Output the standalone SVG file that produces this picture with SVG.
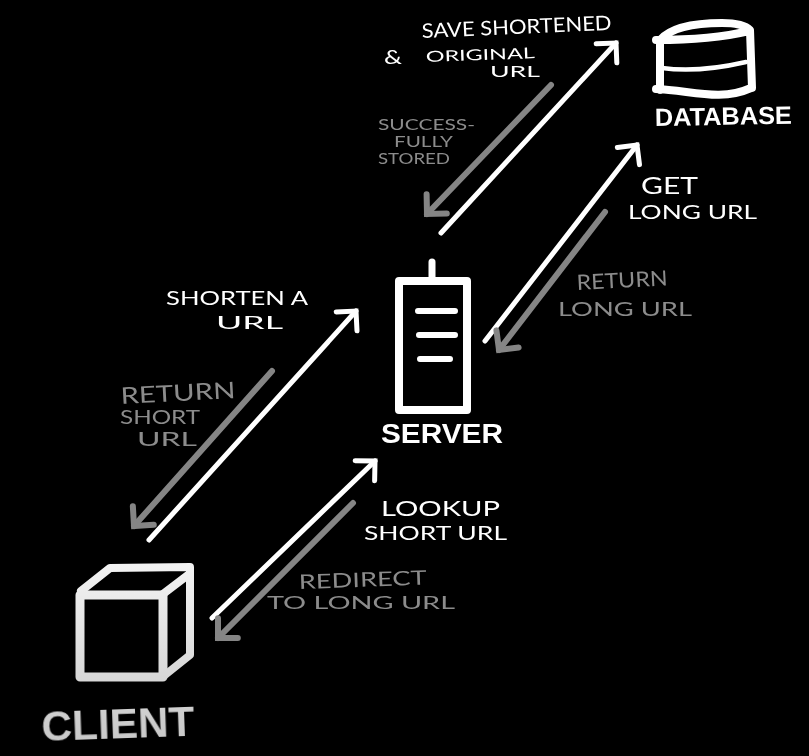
<svg xmlns="http://www.w3.org/2000/svg" width="809" height="756" viewBox="0 0 809 756">
<style>
.bg{fill:#000}
.w{fill:none;stroke:#fff;stroke-linecap:round;stroke-linejoin:round}
.cw{fill:none;stroke:#fff;stroke-width:5;stroke-linecap:round;marker-end:url(#hw)}
.cg{fill:none;stroke:#858585;stroke-width:6;stroke-linecap:round;marker-end:url(#hg)}
text{font-family:"Lato","Liberation Sans",sans-serif;font-weight:400}
.tw{fill:#fff}
.tg{fill:#8c8c8c}
.b{font-weight:700;font-family:"Liberation Sans",sans-serif}
</style>
<defs>
<filter id="soft" x="0" y="0" width="809" height="756" filterUnits="userSpaceOnUse"><feGaussianBlur stdDeviation="0.6"/></filter>
<marker id="hw" markerUnits="userSpaceOnUse" markerWidth="40" markerHeight="40" refX="20" refY="20" orient="auto" viewBox="0 0 40 40">
<path d="M6,6 L20,20 L6,34" fill="none" stroke="#fff" stroke-width="5" stroke-linecap="round" stroke-linejoin="miter"/>
</marker>
<marker id="hg" markerUnits="userSpaceOnUse" markerWidth="40" markerHeight="40" refX="20" refY="20" orient="auto" viewBox="0 0 40 40">
<path d="M6,6 L20,20 L6,34" fill="none" stroke="#858585" stroke-width="6" stroke-linecap="round" stroke-linejoin="miter"/>
</marker>
<linearGradient id="fade" gradientUnits="userSpaceOnUse" x1="0" y1="560" x2="0" y2="745">
<stop offset="0" stop-color="#f4f4f4"/>
<stop offset="1" stop-color="#c8c8c8"/>
</linearGradient>
</defs>
<rect class="bg" width="809" height="756"/>
<g filter="url(#soft)">
<g id="connectors">
<path class="cw" d="M441,233 L616,43"/>
<path class="cg" d="M551,85 L427,214"/>
<path class="cw" d="M485,341 L637,145"/>
<path class="cg" d="M605,212 L499,350"/>
<path class="cw" d="M149,540 L356,311"/>
<path class="cg" d="M272,371 L134,526"/>
<path class="cw" d="M212,618 L375,461"/>
<path class="cg" d="M353,503 L218,638"/>
</g>
<g id="database">
<path class="w" stroke-width="8" d="M656,40 C680,40 720,38 749,31 M660,40 C672,26 700,23 722,23 C735,23 745,25 750,30 L752,88 M660,40 L660,90 M656,89 C690,90 720,102 751,88"/>
<path class="w" stroke-width="4.5" d="M662,68 C690,72 720,68 746,62"/>
<text class="tw b" font-size="25" x="655" y="126" textLength="137" lengthAdjust="spacingAndGlyphs" transform="rotate(-1 655 126)">DATABASE</text>
</g>
<g id="server">
<rect class="w" stroke-width="8" x="399" y="281" width="68" height="129"/>
<path class="w" stroke-width="7" d="M432,262 L432,278"/>
<path class="w" stroke-width="6" d="M418,311 L455,311 M419,335 L455,335 M420,359 L450,359"/>
<text class="tw b" font-size="27" x="381" y="443" textLength="122" lengthAdjust="spacingAndGlyphs">SERVER</text>
</g>
<g id="client">
<rect fill="none" stroke="url(#fade)" stroke-width="9" stroke-linejoin="round" x="80" y="595" width="83" height="82"/>
<path fill="none" stroke="url(#fade)" stroke-width="8" stroke-linecap="round" stroke-linejoin="round" d="M81,591 L110,568 L190,567 L190,655 L165,675 M163,594 L188,575"/>
<text fill="url(#fade)" class="b" font-size="42" x="42" y="741" textLength="153" lengthAdjust="spacingAndGlyphs" transform="rotate(-2 42 741)">CLIENT</text>
</g>
<g id="labels">
<text class="tw" font-size="20" x="422" y="38" textLength="190" lengthAdjust="spacingAndGlyphs" transform="rotate(-2.5 422 38)">SAVE SHORTENED</text>
<text class="tw" font-size="19" x="384" y="64" textLength="18" lengthAdjust="spacingAndGlyphs">&amp;</text>
<text class="tw" font-size="15" x="426" y="62" textLength="109" lengthAdjust="spacingAndGlyphs" transform="rotate(-2 426 62)">ORIGINAL</text>
<text class="tw" font-size="15" x="490" y="77" textLength="50" lengthAdjust="spacingAndGlyphs">URL</text>
<text class="tg" font-size="15" x="378" y="130" textLength="97" lengthAdjust="spacingAndGlyphs">SUCCESS-</text>
<text class="tg" font-size="15" x="394" y="147" textLength="59" lengthAdjust="spacingAndGlyphs">FULLY</text>
<text class="tg" font-size="15" x="378" y="164" textLength="72" lengthAdjust="spacingAndGlyphs">STORED</text>
<text class="tw" font-size="24" x="641" y="194" textLength="57" lengthAdjust="spacingAndGlyphs">GET</text>
<text class="tw" font-size="19" x="628" y="219" textLength="129" lengthAdjust="spacingAndGlyphs">LONG URL</text>
<text class="tg" font-size="21" x="577" y="290" textLength="91" lengthAdjust="spacingAndGlyphs" transform="rotate(-3 577 290)">RETURN</text>
<text class="tg" font-size="19" x="558" y="316" textLength="134" lengthAdjust="spacingAndGlyphs">LONG URL</text>
<text class="tw" font-size="19" x="166" y="305" textLength="142" lengthAdjust="spacingAndGlyphs">SHORTEN A</text>
<text class="tw" font-size="17" x="216" y="329" textLength="67" lengthAdjust="spacingAndGlyphs">URL</text>
<text class="tg" font-size="23" x="121" y="404" textLength="115" lengthAdjust="spacingAndGlyphs" transform="rotate(-3 121 404)">RETURN</text>
<text class="tg" font-size="19" x="120" y="424" textLength="80" lengthAdjust="spacingAndGlyphs">SHORT</text>
<text class="tg" font-size="19" x="137" y="446" textLength="60" lengthAdjust="spacingAndGlyphs">URL</text>
<text class="tw" font-size="22" x="381" y="516" textLength="119" lengthAdjust="spacingAndGlyphs">LOOKUP</text>
<text class="tw" font-size="19" x="364" y="540" textLength="143" lengthAdjust="spacingAndGlyphs">SHORT URL</text>
<text class="tg" font-size="20" x="299" y="589" textLength="128" lengthAdjust="spacingAndGlyphs" transform="rotate(-2 299 589)">REDIRECT</text>
<text class="tg" font-size="18" x="267" y="609" textLength="188" lengthAdjust="spacingAndGlyphs">TO LONG URL</text>
</g>
</g>
</svg>
